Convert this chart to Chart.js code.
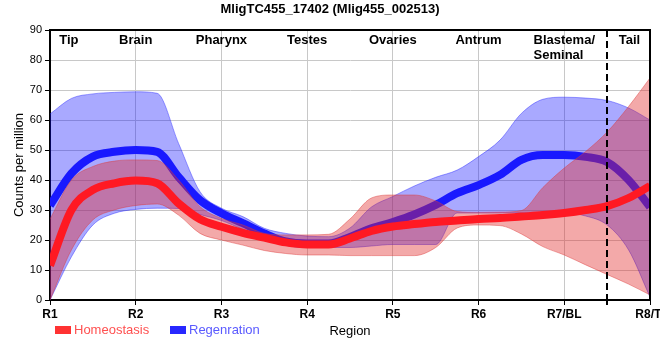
<!DOCTYPE html>
<html><head><meta charset="utf-8">
<script src="https://cdn.jsdelivr.net/npm/chart.js@4.4.0/dist/chart.umd.min.js"></script>
<style>html,body{margin:0;padding:0;background:#fff;overflow:hidden}#wrap{width:660px;height:360px;position:relative}</style>
</head><body><div id="wrap"><canvas id="c"></canvas></div>
<script>
const chartTitle = 'MligTC455_17402 (Mlig455_002513)';
const xTickLabels = ['R1','R2','R3','R4','R5','R6','R7/BL','R8/TI'];
const regionNames = ['Tip','Brain','Pharynx','Testes','Ovaries','Antrum',['Blastema/','Seminal'],'Tail'];
const regionAt = [0.22,1,2,3,4,5,6,6.76];
const tailBoundary = 6.5;
const seriesNames = ['Homeostasis','Regenration'];

const samplePos = [0,0.25,0.5,0.75,1,1.25,1.5,1.75,2,2.25,2.5,2.75,3,3.25,3.5,3.75,4,4.25,4.5,4.75,5,5.25,5.5,5.75,6,6.25,6.5,6.75,7];
const homeoMean = [11.5,30,36.7,38.9,39.8,38.9,32.2,26.9,24.4,22.4,20.8,19.2,18.5,18.5,20.5,23,24.5,25.3,26,26.5,27,27.3,27.8,28.3,29,30,31.3,34,38];
const homeoHigh = [27,40,44.5,46.3,46.7,46.5,40,31.1,27.2,25,22.2,21.7,21.7,21.9,27,34,35,35,33,29.5,29.2,29.3,29.8,37.5,44,49.5,56,64.5,74];
const homeoLow  = [0,16.7,26.7,30,31.5,32,28.3,22.2,20,18.3,16.5,15.5,15,15,14.8,14.8,14.8,14.8,17.5,24,25,24.8,22,17.8,15,11.7,8.5,5.3,1.7];
const regenMean = [31.5,42.2,47.8,49.4,50,49.4,41,33.3,28.9,25.6,22.2,19.5,18.8,18.8,21,23.9,26,28.5,31.7,35.6,38.3,41.7,46.7,48.3,48.3,47.7,46,40,31];
const regenHigh = [62,67.2,68.7,69.2,69.4,68.9,52.2,36.1,30.6,27.8,23.9,22.2,21.3,21.1,24,31,34.5,38,40.9,43.3,47.8,53.3,62.2,66.9,67.6,67.3,66.5,64,60];
const regenLow  = [0,14.4,25,28.9,30.2,30.6,30.5,28.5,26.5,23.5,20.5,18.5,17.5,17.5,17.5,18,18.5,18.5,18.5,29,29,29,29,29,29,28,25,16.7,1];

const pts = arr => arr.map((y,i)=>({x:samplePos[i], y}));
const FONT = "'Liberation Sans', Arial, sans-serif";
Chart.defaults.font.family = FONT;
Chart.defaults.color = '#000';

const lineBase = {pointRadius:0, pointHoverRadius:0, cubicInterpolationMode:'monotone'};
const datasets = [
  {...lineBase, label:seriesNames[0], data:pts(homeoMean), borderColor:'rgb(255,25,35)', borderWidth:8, fill:false, order:0},
  {...lineBase, label:'h-hi', data:pts(homeoHigh), borderColor:'rgba(220,60,60,0.45)', borderWidth:1, backgroundColor:'rgba(225,40,40,0.4)', fill:{target:2}, order:1},
  {...lineBase, label:'h-lo', data:pts(homeoLow), borderColor:'rgba(220,60,60,0.45)', borderWidth:1, fill:false, order:1},
  {...lineBase, label:seriesNames[1], data:pts(regenMean), borderColor:'rgb(25,25,255)', borderWidth:8, fill:false, order:2},
  {...lineBase, label:'r-hi', data:pts(regenHigh), borderColor:'rgba(40,40,255,0.45)', borderWidth:1, backgroundColor:'rgba(10,10,255,0.35)', fill:{target:5}, order:3},
  {...lineBase, label:'r-lo', data:pts(regenLow), borderColor:'rgba(40,40,255,0.45)', borderWidth:1, fill:false, order:3}
];

const overlay = {
  id:'overlay',
  afterDatasetsDraw(chart){
    const {ctx, chartArea:a, scales:{x,y}} = chart;
    ctx.save();
    const dx = Math.round(x.getPixelForValue(tailBoundary));
    ctx.strokeStyle='#000'; ctx.lineWidth=2; ctx.setLineDash([7,4]);
    ctx.beginPath(); ctx.moveTo(dx,a.top); ctx.lineTo(dx,a.bottom); ctx.stroke();
    ctx.setLineDash([]);
    ctx.beginPath(); ctx.moveTo(dx,a.bottom); ctx.lineTo(dx,a.bottom+5); ctx.stroke();
    ctx.beginPath(); ctx.moveTo(a.left,a.top); ctx.lineTo(a.right,a.top); ctx.lineTo(a.right,a.bottom); ctx.stroke();
    ctx.fillStyle='#000'; ctx.font='bold 13px '+FONT; ctx.textBaseline='middle';
    regionNames.forEach((n,i)=>{
      const px = x.getPixelForValue(regionAt[i]);
      if (Array.isArray(n)) {
        const w = ctx.measureText(n[0]).width;
        ctx.textAlign='left';
        n.forEach((t,j)=>ctx.fillText(t, px - w/2, a.top + 10 + j*15));
      } else {
        ctx.textAlign='center';
        ctx.fillText(n, px, a.top + 10);
      }
    });
    const items = [
      {t:seriesNames[0], box:'rgb(255,50,50)', col:'rgb(255,80,80)', x:55},
      {t:seriesNames[1], box:'rgb(40,40,255)', col:'rgb(90,90,255)', x:170}
    ];
    ctx.font='13px '+FONT; ctx.textAlign='left';
    items.forEach(it=>{
      ctx.fillStyle=it.box; ctx.fillRect(it.x, 326, 16, 8);
      ctx.fillStyle=it.col; ctx.fillText(it.t, it.x+19, 330.5);
    });
    ctx.restore();
  }
};

new Chart(document.getElementById('c'), {
  type:'line',
  data:{datasets},
  options:{
    responsive:true, maintainAspectRatio:false, animation:false,
    layout:{padding:0},
    plugins:{
      legend:{display:false}, tooltip:{enabled:false},
      title:{display:true, text:chartTitle, font:{size:13, weight:'bold'}, color:'#000', padding:{top:2,bottom:12.4}},
      filler:{propagate:false}
    },
    scales:{
      x:{type:'linear', min:0, max:7, offset:false,
         ticks:{stepSize:1, autoSkip:false, maxRotation:0, font:{size:12, weight:'bold'}, color:'#000', padding:2,
                callback:v=>Number.isInteger(v)? xTickLabels[v] : ''},
         grid:{color:'#c8c8c8', tickColor:'#000', tickLength:5},
         border:{color:'#000', width:2},
         title:{display:true, text:'Region', font:{size:13}, color:'#000', padding:{top:0,bottom:21}},
         afterFit(s){ s.height = 60; s.paddingRight = 10; }
      },
      y:{min:0, max:90,
         ticks:{stepSize:10, font:{size:11}, color:'#000', padding:3},
         grid:{color:'#c8c8c8', tickColor:'#000', tickLength:5},
         border:{color:'#000', width:2},
         title:{display:true, text:'Counts per million', font:{size:13}, color:'#000', padding:{top:12,bottom:0}},
         afterFit(s){ s.width = 50; }
      }
    }
  },
  plugins:[overlay]
});
</script></body></html>
